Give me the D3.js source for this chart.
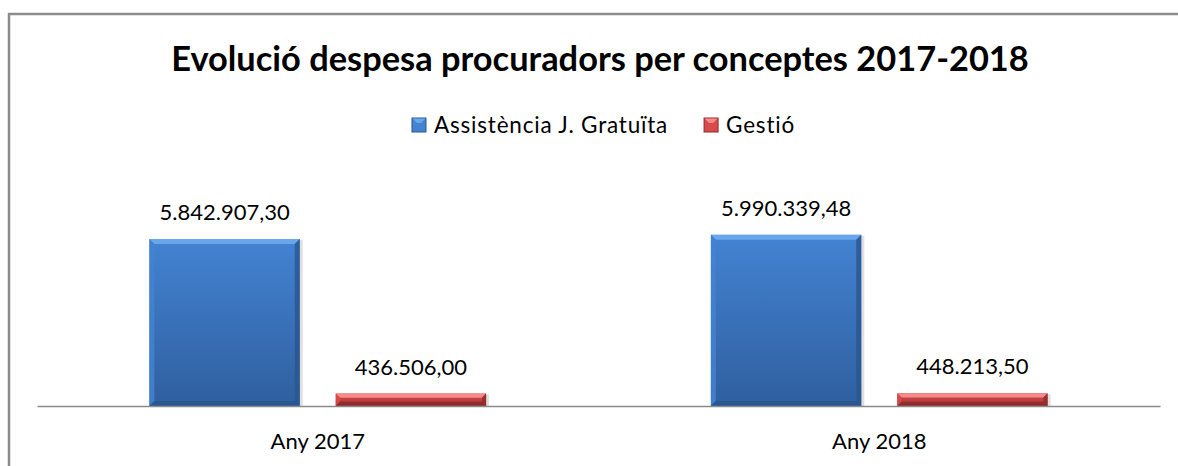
<!DOCTYPE html>
<html>
<head>
<meta charset="utf-8">
<script src="https://cdn.jsdelivr.net/npm/d3@7"></script>
<style>
  html, body { margin: 0; padding: 0; background: #fff; }
  text { font-family: Lato, "Open Sans", sans-serif; fill: #000; }
</style>
</head>
<body>
<svg id="chart" width="1178" height="466"></svg>
<script>
const titleText = "Evolució despesa procuradors per conceptes 2017-2018";
const categories = ["Any 2017", "Any 2018"];
const seriesNames = ["Assistència J. Gratuïta", "Gestió"];
const assistencia = [5842907.30, 5990339.48];
const gestio = [436506.00, 448213.50];
const labelsAssistencia = ["5.842.907,30", "5.990.339,48"];
const labelsGestio = ["436.506,00", "448.213,50"];

const colors = {
  "Assistència J. Gratuïta": { light: "#6aa6ea", mid: "#4383d2", dark: "#2f5f9f", edge: "#2a558f" },
  "Gestió": { light: "#f48a8a", mid: "#d94a4a", dark: "#a83434", edge: "#8e2a2a" }
};

const svg = d3.select("#chart");

// rows for drawing
const rows = [];
categories.forEach((c, i) => {
  rows.push({ cat: c, serie: seriesNames[0], value: assistencia[i], label: labelsAssistencia[i] });
  rows.push({ cat: c, serie: seriesNames[1], value: gestio[i], label: labelsGestio[i] });
});

// marco del grafic
svg.append("rect")
  .attr("x", 9).attr("y", 14)
  .attr("width", 1200).attr("height", 500)
  .attr("fill", "none")
  .attr("stroke", "#8c8c8c")
  .attr("stroke-width", 2.5);

// titol
svg.append("text")
  .attr("x", 600).attr("y", 71)
  .attr("text-anchor", "middle")
  .style("font-size", "34.4px")
  .style("font-weight", "bold")
  .text(titleText);

// escales
const x0 = d3.scaleBand()
  .domain(categories)
  .range([37, 1160])
  .padding(0);

const x1 = d3.scaleBand()
  .domain(seriesNames)
  .range([0, x0.bandwidth()])
  .paddingInner(0.193)
  .paddingOuter(0.603);

const y = d3.scaleLinear()
  .domain([0, 7000000])
  .range([406, 206]);

// gradients
const defs = svg.append("defs");
seriesNames.forEach((s, i) => {
  const g = defs.append("linearGradient")
    .attr("id", "grad" + i)
    .attr("x1", 0).attr("y1", 0).attr("x2", 0).attr("y2", 1);
  g.append("stop").attr("offset", "0%").attr("stop-color", colors[s].mid);
  g.append("stop").attr("offset", "100%").attr("stop-color", colors[s].dark);
});

// barres amb bisell
const bars = svg.append("g")
  .selectAll("g")
  .data(rows)
  .enter()
  .append("g");

bars.each(function (d) {
  const g = d3.select(this);
  const bx = x0(d.cat) + x1(d.serie);
  const bw = x1.bandwidth();
  const by = y(d.value);
  const bh = y(0) - by;
  const b = Math.min(5, bh / 3);
  const c = colors[d.serie];
  const gi = seriesNames.indexOf(d.serie);

  // ombra suau
  g.append("rect")
    .attr("x", bx + 1).attr("y", by + 1)
    .attr("width", bw + 2).attr("height", bh)
    .attr("fill", "#000").attr("opacity", 0.12);

  g.append("rect")
    .attr("x", bx).attr("y", by)
    .attr("width", bw).attr("height", bh)
    .attr("fill", "url(#grad" + gi + ")");

  // bisell superior
  g.append("path")
    .attr("d", `M${bx},${by} L${bx + bw},${by} L${bx + bw - b},${by + b} L${bx + b},${by + b} Z`)
    .attr("fill", c.light);
  // bisell esquerre
  g.append("path")
    .attr("d", `M${bx},${by} L${bx + b},${by + b} L${bx + b},${by + bh - b} L${bx},${by + bh} Z`)
    .attr("fill", c.mid).attr("opacity", 0.85);
  // bisell dret
  g.append("path")
    .attr("d", `M${bx + bw},${by} L${bx + bw},${by + bh} L${bx + bw - b},${by + bh - b} L${bx + bw - b},${by + b} Z`)
    .attr("fill", c.edge).attr("opacity", 0.8);
  // bisell inferior
  g.append("path")
    .attr("d", `M${bx},${by + bh} L${bx + bw},${by + bh} L${bx + bw - b},${by + bh - b} L${bx + b},${by + bh - b} Z`)
    .attr("fill", c.edge).attr("opacity", 0.9);

  // etiqueta de valor
  svg.append("text")
    .attr("x", bx + bw / 2)
    .attr("y", by - 19)
    .attr("text-anchor", "middle")
    .style("font-size", "22px")
    .text(d.label);
});

// eix x
const xAxis = d3.axisBottom(x0).tickSize(0).tickPadding(27);
const xAxisG = svg.append("g")
  .attr("transform", `translate(0,${y(0)})`)
  .call(xAxis);
xAxisG.select(".domain").attr("stroke", "#8c8c8c").attr("stroke-width", 1.5);
xAxisG.selectAll("text")
  .style("font-size", "22px")
  .style("font-family", "Lato, 'Open Sans', sans-serif")
  .attr("fill", "#000");

// llegenda
const legend = svg.append("g");
let lx = 0;
seriesNames.forEach((s, i) => {
  const item = legend.append("g").attr("transform", `translate(${lx},0)`);
  item.append("rect")
    .attr("x", 0).attr("y", -7)
    .attr("width", 14).attr("height", 14)
    .attr("fill", colors[s].mid)
    .attr("stroke", colors[s].edge).attr("stroke-width", 1);
  item.append("path")
    .attr("d", "M0.5,-6.5 L13.5,-6.5 L9,-2 L5,-2 Z")
    .attr("fill", colors[s].light);
  const t = item.append("text")
    .attr("x", 22).attr("y", 8)
    .style("font-size", "22.5px")
    .style("letter-spacing", "0.8px")
    .text(s);
  lx += 22 + t.node().getComputedTextLength() + 36;
});
const legendW = lx - 36;
legend.attr("transform", `translate(${603.5 - legendW / 2},125)`);
</script>
</body>
</html>
